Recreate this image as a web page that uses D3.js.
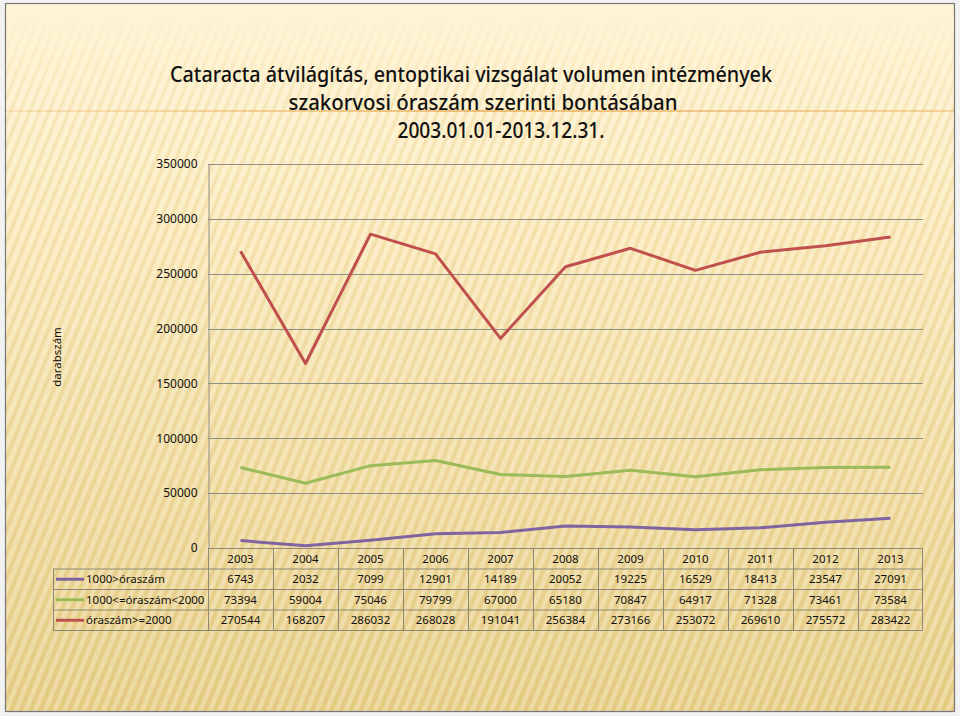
<!DOCTYPE html>
<html>
<head>
<meta charset="utf-8">
<script src="https://cdn.jsdelivr.net/npm/d3@7"></script>
<style>
  html, body { margin: 0; padding: 0; background: #f2f2f2; }
  svg { display: block; }
  text { font-family: "Noto Sans", "Open Sans", sans-serif; fill: #111; }
</style>
</head>
<body>
<svg id="chart" width="960" height="716"></svg>
<script>
var years = ["2003", "2004", "2005", "2006", "2007", "2008", "2009", "2010", "2011", "2012", "2013"];
var seriesNames = ["1000>óraszám", "1000<=óraszám<2000", "óraszám>=2000"];
var seriesColors = ["#8064a2", "#9bbb59", "#c0504d"];
var under1000 = [6743, 2032, 7099, 12901, 14189, 20052, 19225, 16529, 18413, 23547, 27091];
var from1000to2000 = [73394, 59004, 75046, 79799, 67000, 65180, 70847, 64917, 71328, 73461, 73584];
var over2000 = [270544, 168207, 286032, 268028, 191041, 256384, 273166, 253072, 269610, 275572, 283422];
var yTicks = [0, 50000, 100000, 150000, 200000, 250000, 300000, 350000];
var titleLines = [
  "Cataracta átvilágítás, entoptikai vizsgálat  volumen intézmények",
  "szakorvosi óraszám szerinti bontásában",
  "2003.01.01-2013.12.31."
];
var yTitle = "darabszám";

var series = [under1000, from1000to2000, over2000];

var svg = d3.select("#chart");
var defs = svg.append("defs");

// background gradient
var grad = defs.append("linearGradient").attr("id", "bg").attr("x1", 0).attr("y1", 0).attr("x2", 0).attr("y2", 1);
grad.append("stop").attr("offset", "0").attr("stop-color", "#fff5d6");
grad.append("stop").attr("offset", "0.25").attr("stop-color", "#fcecbf");
grad.append("stop").attr("offset", "1").attr("stop-color", "#e8d08a");

// diagonal stripes
var pat = defs.append("pattern").attr("id", "stripes").attr("patternUnits", "userSpaceOnUse")
  .attr("width", 9).attr("height", 9).attr("patternTransform", "rotate(22)");
pat.append("rect").attr("width", 4).attr("height", 9).attr("fill", "#ffffff").attr("opacity", 0.22);
pat.append("rect").attr("x", 5).attr("width", 3).attr("height", 9).attr("fill", "#b08a30").attr("opacity", 0.09);

var fade = defs.append("linearGradient").attr("id", "stripeFade").attr("x1", 0).attr("y1", 0).attr("x2", 0).attr("y2", 1);
fade.append("stop").attr("offset", "0").attr("stop-color", "#fff").attr("stop-opacity", 0);
fade.append("stop").attr("offset", "0.15").attr("stop-color", "#fff").attr("stop-opacity", 1);
fade.append("stop").attr("offset", "1").attr("stop-color", "#fff").attr("stop-opacity", 1);
defs.append("mask").attr("id", "fadeMask")
  .append("rect").attr("width", 960).attr("height", 716).attr("fill", "url(#stripeFade)");

var orangeGrad = defs.append("linearGradient").attr("id", "orange").attr("x1", 0).attr("x2", 1);
orangeGrad.append("stop").attr("offset", "0").attr("stop-color", "#e8a850").attr("stop-opacity", 0.2);
orangeGrad.append("stop").attr("offset", "0.5").attr("stop-color", "#e8a850").attr("stop-opacity", 0.7);
orangeGrad.append("stop").attr("offset", "1").attr("stop-color", "#e8a850").attr("stop-opacity", 0.4);

svg.append("rect").attr("x", 5).attr("y", 3).attr("width", 950).attr("height", 709)
  .attr("fill", "url(#bg)");
svg.append("rect").attr("x", 5).attr("y", 3).attr("width", 950).attr("height", 709)
  .attr("fill", "url(#stripes)").attr("mask", "url(#fadeMask)");
svg.append("rect").attr("x", 6).attr("y", 110).attr("width", 948).attr("height", 2)
  .attr("fill", "url(#orange)");
svg.append("rect").attr("x", 5.5).attr("y", 3.5).attr("width", 949).attr("height", 708)
  .attr("fill", "none").attr("stroke", "#777").attr("stroke-width", 1.2);

// title
var titleX = [471, 483, 501];
var titleW = [602, 389, 207];
svg.append("g").selectAll("text").data(titleLines).join("text")
  .attr("x", function(d, i) { return titleX[i]; })
  .attr("y", function(d, i) { return 82 + i * 28; })
  .attr("text-anchor", "middle")
  .attr("font-size", 21)
  .attr("font-weight", 500)
  .attr("textLength", function(d, i) { return titleW[i]; })
  .attr("lengthAdjust", "spacingAndGlyphs")
  .text(function(d) { return d; });

// scales
var x = d3.scaleBand().domain(years).range([208, 923]);
var y = d3.scaleLinear().domain([0, 350000]).range([548, 164]);

// gridlines
svg.append("g").selectAll("line").data(yTicks.filter(function(t) { return t > 0; })).join("line")
  .attr("x1", 208).attr("x2", 923)
  .attr("y1", function(d) { return Math.round(y(d)) + 0.5; })
  .attr("y2", function(d) { return Math.round(y(d)) + 0.5; })
  .attr("stroke", "#8f8f86").attr("stroke-width", 1);

// y axis
var yAxis = d3.axisLeft(y).tickValues(yTicks).tickSize(0).tickPadding(11).tickFormat(d3.format("d"));
var yg = svg.append("g").attr("transform", "translate(208.5,0)").call(yAxis);
yg.select(".domain").attr("stroke", "#8f8f86");
yg.selectAll("text").attr("font-size", 12).attr("fill", "#111")
  .attr("font-family", "'Noto Sans', sans-serif");

svg.append("text").attr("transform", "translate(61,357) rotate(-90)")
  .attr("text-anchor", "middle").attr("font-size", 11.5).text(yTitle);

// lines
var line = d3.line()
  .x(function(d, i) { return x(years[i]) + x.bandwidth() / 2; })
  .y(function(d) { return y(d); });
svg.append("g").selectAll("path").data(series).join("path")
  .attr("d", line)
  .attr("fill", "none")
  .attr("stroke", function(d, i) { return seriesColors[i]; })
  .attr("stroke-width", 3)
  .attr("stroke-linejoin", "round");

// data table
var rowTop = 548, headH = 21, rowH = 20.5, legendLeft = 53;
var tableBottom = rowTop + headH + rowH * 3;
var tg = svg.append("g").attr("stroke", "#8f8a76").attr("stroke-width", 1).attr("fill", "none");
tg.append("line").attr("x1", 208).attr("x2", 923).attr("y1", rowTop + 0.5).attr("y2", rowTop + 0.5);
[0, 1, 2, 3].forEach(function(r) {
  var yy = rowTop + headH + r * rowH;
  tg.append("line").attr("x1", legendLeft).attr("x2", 923).attr("y1", yy).attr("y2", yy);
});
tg.append("line").attr("x1", legendLeft + 0.5).attr("x2", legendLeft + 0.5)
  .attr("y1", rowTop + headH).attr("y2", tableBottom);
years.forEach(function(yr) {
  var xx = Math.round(x(yr)) + 0.5;
  tg.append("line").attr("x1", xx).attr("x2", xx).attr("y1", rowTop).attr("y2", tableBottom);
});
tg.append("line").attr("x1", 922.5).attr("x2", 922.5).attr("y1", rowTop).attr("y2", tableBottom);

svg.append("g").selectAll("text").data(years).join("text")
  .attr("x", function(d) { return x(d) + x.bandwidth() / 2; })
  .attr("y", rowTop + headH / 2 + 4)
  .attr("text-anchor", "middle").attr("font-size", 11.5)
  .text(function(d) { return d; });

series.forEach(function(vals, si) {
  var cy = rowTop + headH + si * rowH + rowH / 2;
  svg.append("line").attr("x1", 56).attr("x2", 84).attr("y1", cy).attr("y2", cy)
    .attr("stroke", seriesColors[si]).attr("stroke-width", 3);
  svg.append("text").attr("x", 86).attr("y", cy + 4).attr("font-size", 11.5).text(seriesNames[si]);
  svg.append("g").selectAll("text").data(vals).join("text")
    .attr("x", function(d, i) { return x(years[i]) + x.bandwidth() / 2; })
    .attr("y", cy + 4)
    .attr("text-anchor", "middle").attr("font-size", 11.5)
    .text(function(d) { return d; });
});
</script>
</body>
</html>
